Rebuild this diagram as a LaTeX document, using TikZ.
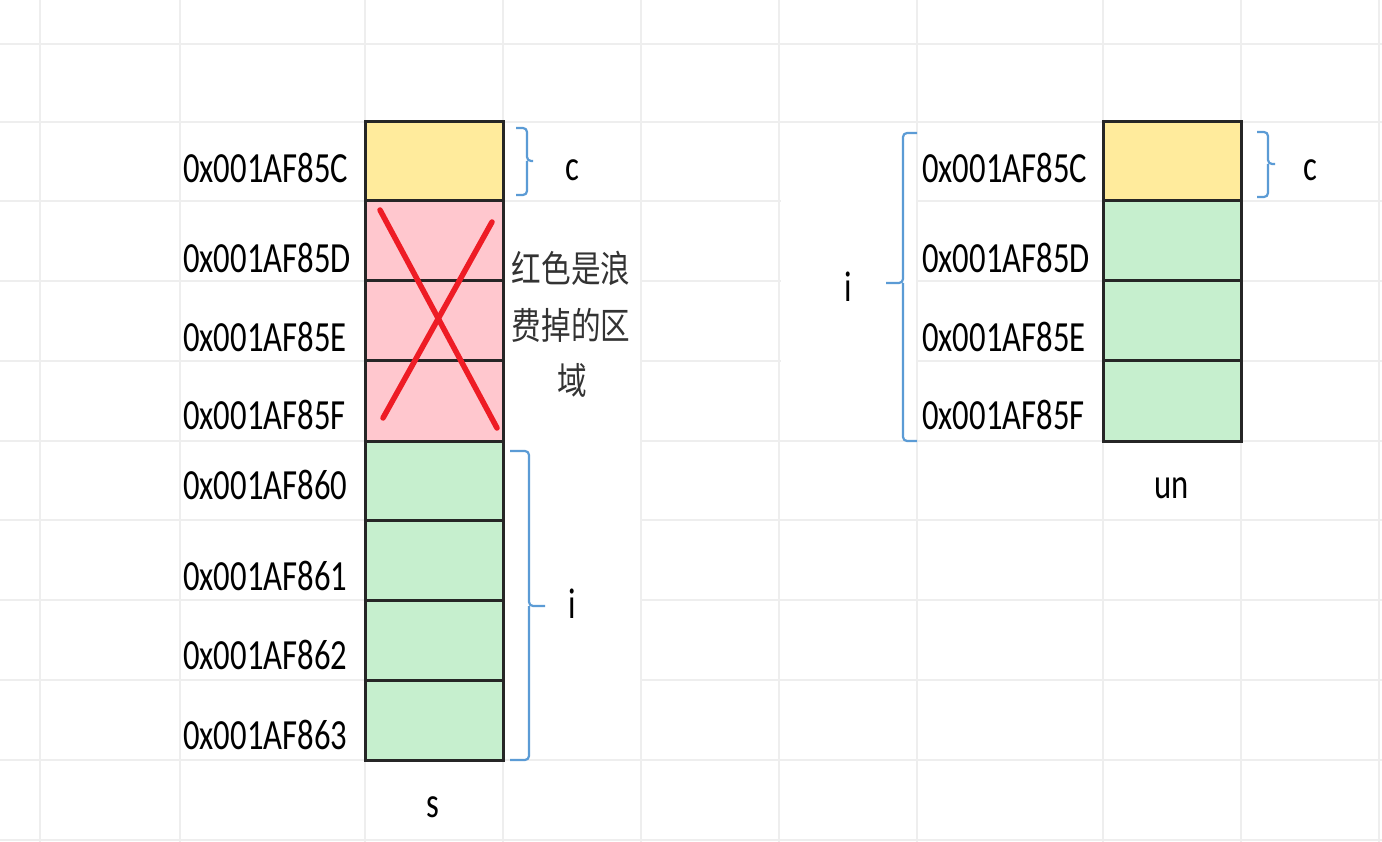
\documentclass[tikz,border=0pt]{standalone}
\usepackage{fontspec}
\setmainfont{Carlito}
\newfontfamily\cjk{Noto Sans CJK SC}
\usepackage{graphicx}
\definecolor{gridc}{HTML}{EEEEEE}
\definecolor{yel}{HTML}{FFEB9C}
\definecolor{pnk}{HTML}{FFC7CE}
\definecolor{grn}{HTML}{C6EFCE}
\definecolor{brc}{HTML}{5B9BD5}
\definecolor{xred}{HTML}{EE1C25}
\definecolor{edgec}{HTML}{262626}
\definecolor{cjkc}{HTML}{333333}
\newcommand{\addr}[1]{\scalebox{0.76}[1]{\fontsize{43}{43}\selectfont #1}}
\newcommand{\cjktext}[1]{\scalebox{0.8}[1]{\cjk\fontsize{37}{37}\selectfont\color{cjkc} #1}}
\begin{document}
\begin{tikzpicture}[x=1pt,y=-1pt,
  gridline/.style={gridc,line width=2.5pt},
  memcell/.style={draw=edgec,line width=3pt,minimum width=138pt,inner sep=0pt,outer sep=0pt},
  addrlbl/.style={anchor=west,inner sep=0pt},
  varlbl/.style={inner sep=0pt},
  bracket/.style={brc,line width=2.2pt,rounded corners=4pt},
  cross/.style={xred,line width=5.5pt,line cap=round}]
\useasboundingbox (0,0) rectangle (1382,842);
\fill[white] (0,0) rectangle (1382,842);
% grid
\foreach \y in {44,122,201,281,361,441,520,600,680,760,840}
  \draw[gridline] (0,\y) -- (1382,\y);
\foreach \x in {40,180,365,503,641,779,917,1103,1241,1379}
  \draw[gridline] (\x,0) -- (\x,842);
% merged cells hide grid
\fill[white] (504.5,202.5) rectangle (639.5,758.5);
\fill[white] (780.5,123.5) rectangle (915.5,439.5);
% left memory column
\node[memcell,fill=yel,minimum height=79pt] (s0) at (434,161.5) {};
\node[memcell,fill=pnk,minimum height=80pt] (s1) at (434,241) {};
\node[memcell,fill=pnk,minimum height=80pt] (s2) at (434,321) {};
\node[memcell,fill=pnk,minimum height=80pt] (s3) at (434,401) {};
\node[memcell,fill=grn,minimum height=79pt] (s4) at (434,480.5) {};
\node[memcell,fill=grn,minimum height=80pt] (s5) at (434,560) {};
\node[memcell,fill=grn,minimum height=80pt] (s6) at (434,640) {};
\node[memcell,fill=grn,minimum height=80pt] (s7) at (434,720) {};
% cross
\coordinate (xa) at (380,210);
\coordinate (xb) at (497,428);
\coordinate (xc) at (492,222);
\coordinate (xd) at (383,418);
\draw[cross] (xa) -- (xb);
\draw[cross] (xc) -- (xd);
% left labels
\node[addrlbl] (la0) at (183,168) {\addr{0x001AF85C}};
\node[addrlbl] (la1) at (183,258) {\addr{0x001AF85D}};
\node[addrlbl] (la2) at (183,337) {\addr{0x001AF85E}};
\node[addrlbl] (la3) at (183,415) {\addr{0x001AF85F}};
\node[addrlbl] (la4) at (183,485) {\addr{0x001AF860}};
\node[addrlbl] (la5) at (183,576) {\addr{0x001AF861}};
\node[addrlbl] (la6) at (183,655) {\addr{0x001AF862}};
\node[addrlbl] (la7) at (183,735) {\addr{0x001AF863}};
% left brackets
\draw[bracket] (516,128) -| (527,161) -- (533,161);
\draw[bracket] (527,161) |- (516,195);
\draw[bracket] (510,451) -| (529,606) -- (545,606);
\draw[bracket] (529,606) |- (510,760);
\node[varlbl] (lc) at (572,170) {\addr{c}};
\node[varlbl] (li) at (572,604) {\addr{i}};
\node[varlbl] (ls) at (433,807) {\addr{s}};
% chinese note
\node[varlbl] (n1) at (571,268) {\cjktext{红色是浪}};
\node[varlbl] (n2) at (571,325) {\cjktext{费掉的区}};
\node[varlbl] (n3) at (572,380) {\cjktext{域}};
% right memory column
\node[memcell,fill=yel,minimum height=79pt] (u0) at (1172,161.5) {};
\node[memcell,fill=grn,minimum height=80pt] (u1) at (1172,241) {};
\node[memcell,fill=grn,minimum height=80pt] (u2) at (1172,321) {};
\node[memcell,fill=grn,minimum height=80pt] (u3) at (1172,401) {};
\node[addrlbl] (ra0) at (922,168) {\addr{0x001AF85C}};
\node[addrlbl] (ra1) at (922,258) {\addr{0x001AF85D}};
\node[addrlbl] (ra2) at (922,337) {\addr{0x001AF85E}};
\node[addrlbl] (ra3) at (922,415) {\addr{0x001AF85F}};
\draw[bracket] (917,133) -| (903,283) -- (886,283);
\draw[bracket] (903,283) |- (917,441);
\draw[bracket] (1257,132) -| (1268,164) -- (1275,164);
\draw[bracket] (1268,164) |- (1257,197);
\node[varlbl] (ri) at (848,287) {\addr{i}};
\node[varlbl] (rc) at (1310,170) {\addr{c}};
\node[varlbl] (run) at (1172,488) {\addr{un}};
\end{tikzpicture}
\end{document}
